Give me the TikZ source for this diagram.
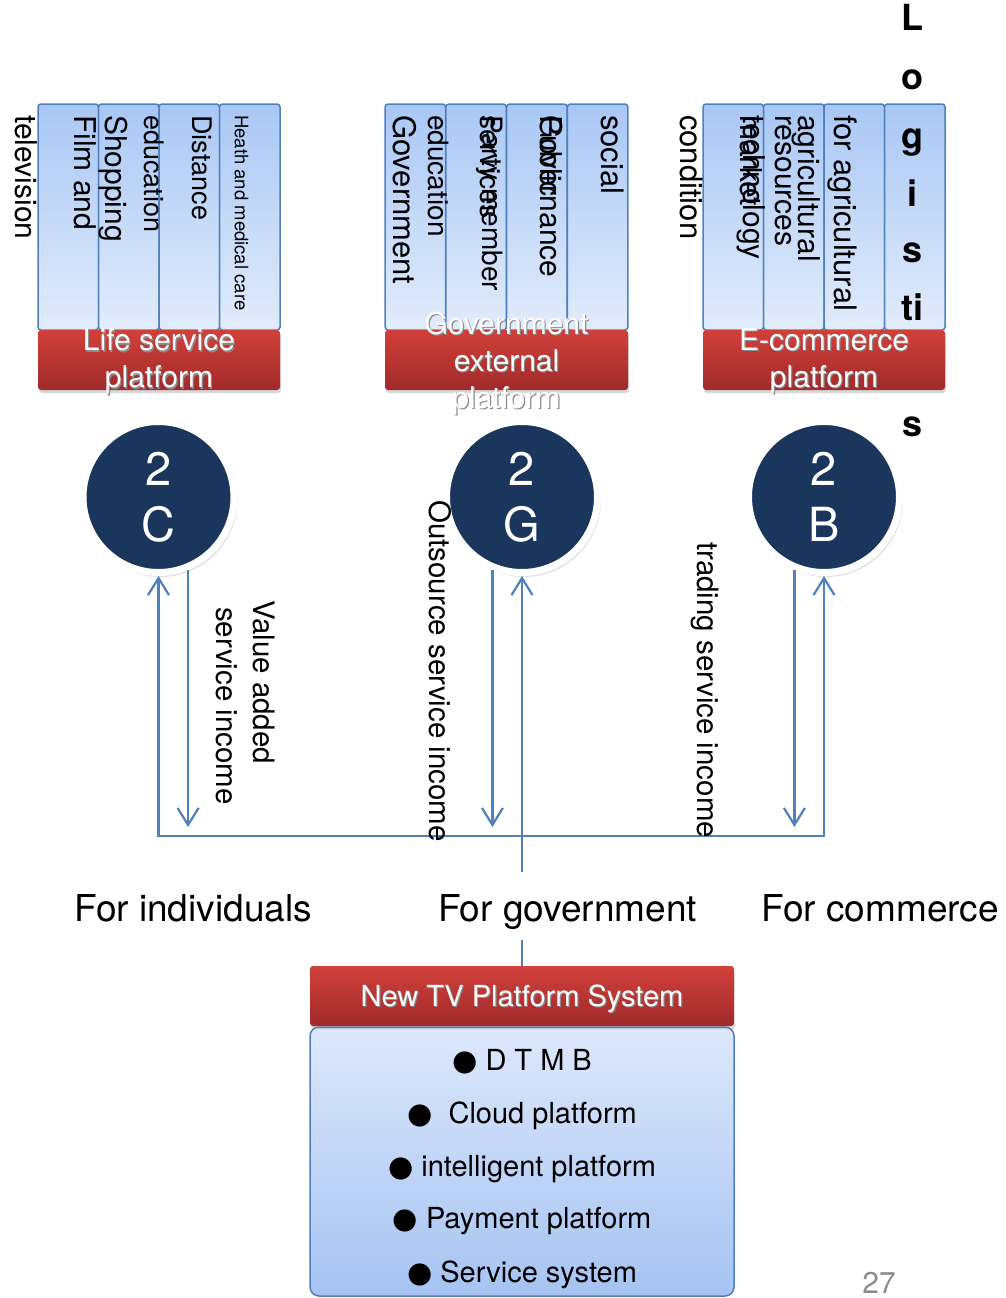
\documentclass[tikz,border=0pt]{standalone}
\usepackage{fontspec}
\setmainfont{TeX Gyre Heros}
\newfontfamily\symbolfont{DejaVu Sans}
\usetikzlibrary{arrows.meta,shadows}

\definecolor{lineblue}{HTML}{4F81BD}
\definecolor{navy}{HTML}{1B365D}
\definecolor{colTop}{HTML}{A9C7F5}
\definecolor{colBot}{HTML}{E2ECFB}
\definecolor{redTop}{HTML}{D1403B}
\definecolor{redBot}{HTML}{A02A2A}
\definecolor{bodyTop}{HTML}{DDE8FB}
\definecolor{bodyBot}{HTML}{A6C3F2}

\newcommand\fsz[1]{\fontsize{#1}{#1}\selectfont}
% white caption text with a soft grey offset shadow
\newcommand\glowtext[1]{\makebox[0pt][l]{\hspace{1.2pt}\raisebox{-1.6pt}{\color{black!45}#1}}#1}

\begin{document}
\begin{tikzpicture}[x=1pt,y=-1pt,
  col/.style={draw=lineblue,line width=1.5pt,rounded corners=3pt,
    top color=colTop,bottom color=colBot,minimum width=60.5pt,
    minimum height=226pt,inner sep=0pt},
  bar/.style={rounded corners=3pt,top color=redTop,bottom color=redBot,
    minimum height=60pt,inner sep=0pt,
    drop shadow={opacity=0.3,shadow xshift=1pt,shadow yshift=-3pt}},
  bartext/.style={text=white,align=center,inner sep=0pt,
    font=\fontsize{30}{37}\selectfont},
  vtext/.style={rotate=-90,anchor=west,inner sep=0pt,font=\fsz{#1}},
  vtext/.default=30,
  letter/.style={anchor=base,inner sep=0pt,font=\fsz{36}\bfseries},
  hub/.style={circle,fill=navy,draw=white,line width=7pt,minimum size=151pt,
    inner sep=0pt,text=white,align=center,font=\fontsize{47}{56}\selectfont,
    drop shadow={opacity=0.22,shadow xshift=2pt,shadow yshift=-3pt,
      shadow scale=1.02}},
  flow/.style={draw=lineblue,line width=2.2pt},
  tip/.tip={Straight Barb[length=17pt,width=21pt]},
  vlabel/.style={rotate=-90,anchor=west,inner sep=0pt,font=\fsz{29.5}},
  caption/.style={anchor=base,inner sep=0pt,font=\fsz{37}},
  item/.style={anchor=base,inner sep=0pt,font=\fsz{29}},
  sysbody/.style={draw=lineblue,line width=1.5pt,rounded corners=9pt,
    top color=bodyTop,bottom color=bodyBot,minimum width=424pt,
    minimum height=269pt,inner sep=0pt},
]
\useasboundingbox (0,0) rectangle (1006,1298);
\fill[white] (0,0) rectangle (1006,1298);

% ---------- service columns ----------
\foreach \i/\x in {1/68.25,2/128.75,3/189.25,4/249.75}
  \node[col] (lc\i) at (\x,217) {};
\foreach \i/\x in {1/415.4,2/476.1,3/536.9,4/597.6}
  \node[col] (gc\i) at (\x,217) {};
\foreach \i/\x in {1/733.25,2/793.75,3/854.25,4/914.75}
  \node[col] (ec\i) at (\x,217) {};

% life service items
\node[vtext] (t1) at (26,115) {television};
\node[vtext] (t2) at (85,115) {Film and};
\node[vtext] (t3) at (113,115) {Shopping};
\node[vtext=27] (t4) at (154,115) {education};
\node[vtext=27] (t5) at (202,115) {Distance};
\node[vtext=18.5] (t6) at (241.5,115) {Heath and medical care};

% government items
\node[vtext=31] (g1t) at (405,115) {Government};
\node[vtext=28] (g2t) at (438,115) {education};
\node[vtext=28] (g3t) at (490,115) {Party member};
\node[vtext=28] (g4t) at (490,115) {services};
\node[vtext] (g5t) at (551,115) {Governance};
\node[vtext] (g6t) at (551,115) {Public};
\node[vtext=31] (g7t) at (613,115) {social};

% e-commerce items
\node[vtext=31] (e1t) at (692,115) {condition};
\node[vtext] (e2t) at (751,115) {technology};
\node[vtext] (e3t) at (751,115) {market};
\node[vtext] (e4t) at (806,115) {agricultural};
\node[vtext] (e5t) at (783,115) {resources};
\node[vtext=31] (e6t) at (842,115) {for agricultural};

% logistics, one letter group per line
\node[letter] (lg1) at (912,31) {L};
\node[letter] (lg2) at (912,89) {o};
\node[letter] (lg3) at (912,148) {g};
\node[letter] (lg4) at (912,206) {i};
\node[letter] (lg5) at (912,262) {s};
\node[letter] (lg6) at (912,320) {ti};
\node[letter] (lg7) at (912,436) {s};

% ---------- platform bars ----------
\node[bar,minimum width=242pt] (lbar) at (159,360) {};
\node[bar,minimum width=243pt] (gbar) at (506.5,360) {};
\node[bar,minimum width=242pt] (ebar) at (824,360) {};

\node[bartext] (ltxt) at (159,362) {\glowtext{Life service}\\\glowtext{platform}};
\node[bartext] (gtxt) at (506.5,364) {\glowtext{Government}\\\glowtext{external}\\\glowtext{platform}};
\node[bartext] (etxt) at (824,362) {\glowtext{E-commerce}\\\glowtext{platform}};

% ---------- customer hubs ----------
\node[hub] (c2c) at (158.5,497) {2\\C};
\node[hub] (c2g) at (522,497) {2\\G};
\node[hub] (c2b) at (824,497) {2\\B};

% ---------- flows ----------
\coordinate (jl) at (158.5,836);
\coordinate (jr) at (824,836);
\coordinate (base) at (0,827);
\coordinate (gup) at (522,872);
\coordinate (gdn) at (522,940);

\draw[flow,tip-tip] (c2c.south) -- (jl) -- (jr) -- (c2b.south);
\draw[flow,-tip] (c2c.-68) -- (c2c.-68 |- base);
\draw[flow,-tip] (c2g.-112) -- (c2g.-112 |- base);
\draw[flow,-tip] (c2b.-112) -- (c2b.-112 |- base);
\draw[flow,-tip] (gup) -- (c2g.south);

\node[vlabel] (va) at (264,600) {Value added};
\node[vlabel] (si) at (227,607) {service income};
\node[vlabel] (os) at (440,500) {Outsource service income};
\node[vlabel] (ts) at (705,542) {trading service income};

\node[caption] (fi) at (193,921) {For individuals};
\node[caption] (fg) at (567.5,921) {For government};
\node[caption] (fc) at (880,921) {For commerce};

% ---------- platform system ----------
\node[sysbody] (body) at (522,1161.5) {};
\node[bar,minimum width=424pt] (hdr) at (522,996) {};
\node[bartext,font=\fsz{29}] (hdrtxt) at (522,999.5) {\glowtext{New TV Platform System}};
\draw[flow] (hdr.north) -- (gdn);

\node[item] (i1) at (522,1070) {{\symbolfont ●}~D T M B};
\node[item] (i2) at (522,1123) {{\symbolfont ●}~~Cloud platform};
\node[item] (i3) at (522,1176) {{\symbolfont ●}~intelligent platform};
\node[item] (i4) at (522,1228) {{\symbolfont ●}~Payment platform};
\node[item] (i5) at (522,1282) {{\symbolfont ●}~Service system};

\node[anchor=base,inner sep=0pt,text=black!45,font=\fsz{30}] (pg) at (879,1293) {27};
\end{tikzpicture}
\end{document}
